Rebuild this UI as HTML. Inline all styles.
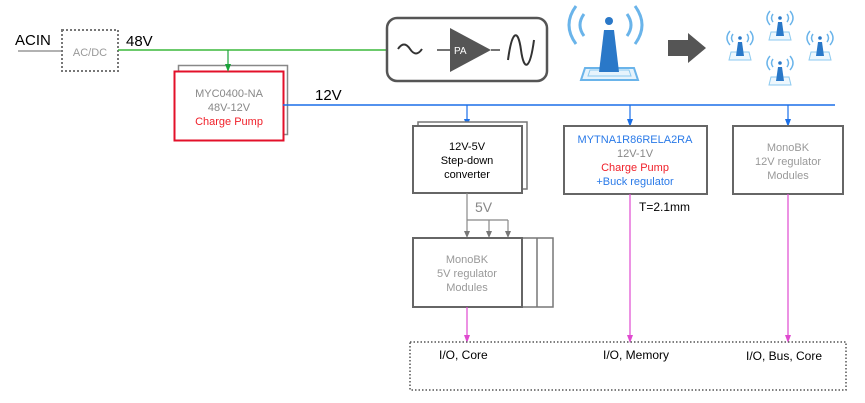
<!DOCTYPE html>
<html><head><meta charset="utf-8"><style>html,body{margin:0;padding:0;background:#fff}svg{display:block}text{font-family:"Liberation Sans",Arial,sans-serif}</style></head>
<body>
<svg width="865" height="403" viewBox="0 0 865 403" xmlns="http://www.w3.org/2000/svg">
<defs>
<marker id="ag" markerWidth="8" markerHeight="8" refX="4" refY="4" orient="auto" markerUnits="userSpaceOnUse"><path d="M0,1 L8,4 L0,7z" fill="#1aa33a"/></marker>
<marker id="ab" markerWidth="8" markerHeight="8" refX="4" refY="4" orient="auto" markerUnits="userSpaceOnUse"><path d="M0,1 L8,4 L0,7z" fill="#1a6fe8"/></marker>
<marker id="ay" markerWidth="7" markerHeight="7" refX="4" refY="3.5" orient="auto" markerUnits="userSpaceOnUse"><path d="M0,0.5 L7,3.5 L0,6.5z" fill="#777"/></marker>
<marker id="ap" markerWidth="8" markerHeight="8" refX="4" refY="4" orient="auto" markerUnits="userSpaceOnUse"><path d="M0,1 L8,4 L0,7z" fill="#e04ad0"/></marker>
<g id="sa">
<g stroke="#6ab4ea" stroke-width="1.5" fill="none"><path d="M-7,-6 q-3,4 0,8"/><path d="M-10,-9 q-6,7 0,14"/><path d="M7,-6 q3,4 0,8"/><path d="M10,-9 q6,7 0,14"/></g>
<circle cx="0" cy="-2" r="1.8" fill="#2a78c8"/>
<path d="M-9,12 L9,12 L11,20 L-11,20z" fill="#eef7fd" stroke="#8ccaf0" stroke-width="1"/>
<path d="M-2,2 L2,2 L4,16 L-4,16z" fill="#2a78c8"/>
</g>
</defs>
<text x="15" y="45" font-size="15" fill="#000">ACIN</text>
<line x1="18" y1="51" x2="62" y2="51" stroke="#999" stroke-width="1.5"/>
<rect x="62" y="30" width="56" height="41" fill="none" stroke="#777" stroke-width="2" stroke-dasharray="2,2"/>
<text x="90" y="56" font-size="11" fill="#999" text-anchor="middle">AC/DC</text>
<text x="126" y="46" font-size="15" fill="#000">48V</text>
<line x1="118" y1="50" x2="387" y2="50" stroke="#3cb83c" stroke-width="1.5"/>
<rect x="178.5" y="65.5" width="109" height="69" fill="#fff" stroke="#888" stroke-width="1.5"/>
<rect x="174.5" y="71.5" width="109" height="69" fill="#fff" stroke="#e3102a" stroke-width="2"/>
<line x1="228" y1="50" x2="228" y2="68" stroke="#1aa33a" stroke-width="1.2" marker-end="url(#ag)"/>
<text x="229" y="97" font-size="11" fill="#888" text-anchor="middle">MYC0400-NA</text>
<text x="229" y="111" font-size="11" fill="#888" text-anchor="middle">48V-12V</text>
<text x="229" y="125" font-size="11" fill="#f0202a" text-anchor="middle">Charge Pump</text>
<text x="315" y="100" font-size="15" fill="#000">12V</text>
<line x1="283" y1="105" x2="835" y2="105" stroke="#1a6fe8" stroke-width="1.5"/>
<rect x="387" y="18" width="160" height="63" rx="10" fill="#fff" stroke="#555" stroke-width="2.5"/>
<path d="M398,49 q6,-9 12,0 q6,9 12,0" fill="none" stroke="#333" stroke-width="2"/>
<line x1="437" y1="50" x2="450" y2="50" stroke="#444" stroke-width="1.5"/>
<path d="M450,28 L450,72 L491,50z" fill="#555"/>
<text x="454" y="54" font-size="10" fill="#fff">PA</text>
<line x1="491" y1="50" x2="500" y2="50" stroke="#444" stroke-width="1.5"/>
<path d="M508,60 C512,30 518,28 521,50 C524,72 530,70 534,40" fill="none" stroke="#333" stroke-width="2"/>
<g stroke="#6ab4ea" stroke-width="3" fill="none">
<path d="M584,14 q-8,11 0,22"/><path d="M576,6 q-14,19 0,38"/>
<path d="M627,14 q8,11 0,22"/><path d="M635,6 q14,19 0,38"/>
</g>
<circle cx="609" cy="21" r="4" fill="#2a78c8"/>
<path d="M585,68 L634,68 L638,80 L581,80z" fill="#e6f3fc" stroke="#6ab4ea" stroke-width="2"/>
<path d="M590,70 L629,70 L631,76 L588,76z" fill="none" stroke="#8ccaf0" stroke-width="1"/>
<path d="M604,30 L614,30 L619,72 L599,72z" fill="#2a78c8"/>
<path d="M668,40 L688,40 L688,33 L706,48 L688,63 L688,56 L668,56z" fill="#555"/>
<use href="#sa" x="740" y="40"/>
<use href="#sa" x="780" y="20"/>
<use href="#sa" x="820" y="40"/>
<use href="#sa" x="780" y="65"/>
<line x1="467" y1="105" x2="467" y2="123" stroke="#1a6fe8" stroke-width="1.2" marker-end="url(#ab)"/>
<line x1="630" y1="105" x2="630" y2="123" stroke="#1a6fe8" stroke-width="1.2" marker-end="url(#ab)"/>
<line x1="788" y1="105" x2="788" y2="123" stroke="#1a6fe8" stroke-width="1.2" marker-end="url(#ab)"/>
<rect x="418" y="122" width="109" height="67" fill="#fff" stroke="#777" stroke-width="1.5"/>
<rect x="413" y="126" width="109" height="67" fill="#fff" stroke="#666" stroke-width="2"/>
<text x="467" y="150" font-size="11" fill="#000" text-anchor="middle">12V-5V</text>
<text x="467" y="164" font-size="11" fill="#000" text-anchor="middle">Step-down</text>
<text x="467" y="178" font-size="11" fill="#000" text-anchor="middle">converter</text>
<rect x="564" y="126" width="143" height="68" fill="#fff" stroke="#666" stroke-width="2"/>
<text x="635" y="143" font-size="11" fill="#2a7ae8" text-anchor="middle">MYTNA1R86RELA2RA</text>
<text x="635" y="157" font-size="11" fill="#888" text-anchor="middle">12V-1V</text>
<text x="635" y="171" font-size="11" fill="#f0202a" text-anchor="middle">Charge Pump</text>
<text x="635" y="185" font-size="11" fill="#2a7ae8" text-anchor="middle">+Buck regulator</text>
<rect x="733" y="126" width="110" height="68" fill="#fff" stroke="#666" stroke-width="2"/>
<text x="788" y="151" font-size="11" fill="#999" text-anchor="middle">MonoBK</text>
<text x="788" y="165" font-size="11" fill="#999" text-anchor="middle">12V regulator</text>
<text x="788" y="179" font-size="11" fill="#999" text-anchor="middle">Modules</text>
<text x="475" y="212" font-size="14" fill="#888">5V</text>
<line x1="467" y1="193" x2="467" y2="235" stroke="#888" stroke-width="1.2" marker-end="url(#ay)"/>
<line x1="467" y1="220" x2="508" y2="220" stroke="#888" stroke-width="1.2"/>
<line x1="489" y1="220" x2="489" y2="235" stroke="#888" stroke-width="1.2" marker-end="url(#ay)"/>
<line x1="508" y1="220" x2="508" y2="235" stroke="#888" stroke-width="1.2" marker-end="url(#ay)"/>
<rect x="413" y="238" width="140" height="69" fill="#fff" stroke="#777" stroke-width="1.5"/>
<line x1="537" y1="238" x2="537" y2="307" stroke="#777" stroke-width="1.5"/>
<rect x="413" y="238" width="109" height="69" fill="#fff" stroke="#666" stroke-width="2"/>
<text x="467" y="263" font-size="11" fill="#999" text-anchor="middle">MonoBK</text>
<text x="467" y="277" font-size="11" fill="#999" text-anchor="middle">5V regulator</text>
<text x="467" y="291" font-size="11" fill="#999" text-anchor="middle">Modules</text>
<text x="639" y="211" font-size="12" fill="#000">T=2.1mm</text>
<line x1="467" y1="307" x2="467" y2="339" stroke="#e04ad0" stroke-width="1.2" marker-end="url(#ap)"/>
<line x1="630" y1="194" x2="630" y2="339" stroke="#e04ad0" stroke-width="1.2" marker-end="url(#ap)"/>
<line x1="788" y1="194" x2="788" y2="339" stroke="#e04ad0" stroke-width="1.2" marker-end="url(#ap)"/>
<rect x="410" y="342" width="436" height="48" fill="none" stroke="#555" stroke-width="1.5" stroke-dasharray="1.5,2"/>
<text x="439" y="359" font-size="12" fill="#000">I/O, Core</text>
<text x="603" y="359" font-size="12" fill="#000">I/O, Memory</text>
<text x="746" y="360" font-size="12" fill="#000">I/O, Bus, Core</text>
</svg>
</body></html>
